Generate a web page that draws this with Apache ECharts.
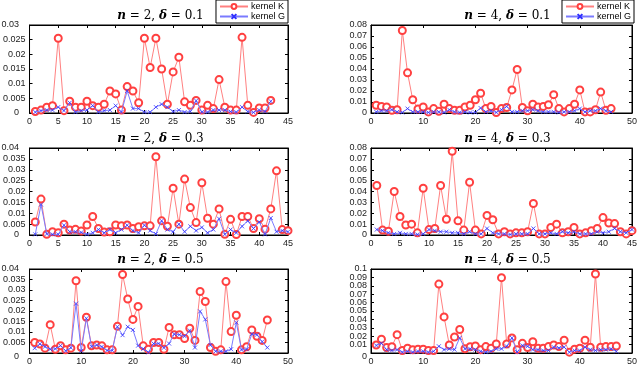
<!DOCTYPE html>
<html>
<head>
<meta charset="utf-8">
<script src="https://cdn.jsdelivr.net/npm/echarts@6/dist/echarts.min.js"></script>
<style>
  html, body { margin: 0; padding: 0; background: #fff; }
  #main { width: 640px; height: 366px; }
</style>
</head>
<body>
<div id="main"></div>
<script>
// 数据：每个子图两条曲线，横坐标为 1..N
const k1 = [0.0005,0.001,0.002,0.0025,0.0255,0.0008,0.004,0.002,0.002,0.004,0.0025,0.002,0.003,0.0075,0.0065,0.001,0.009,0.0075,0.0035,0.0255,0.0155,0.0255,0.015,0.003,0.014,0.019,0.0038,0.0026,0.0043,0.001,0.0026,0.0015,0.0114,0.002,0.001,0.001,0.0258,0.0026,0.0002,0.0017,0.0017,0.0043]
const g1 = [0.0003,0.0008,0.001,0.001,0.002,0.0008,0.0035,0.0003,0.0008,0.001,0.0025,0.0003,0.0008,0.001,0.0025,0.0003,0.0075,0.0015,0.0015,0.0003,0.0003,0.002,0.003,0.002,0.0005,0.001,0.0003,0.0005,0.0042,0.0003,0.0003,0.001,0.001,0.001,0.0005,0.0003,0.002,0.0005,0.0002,0.001,0.0005,0.004]

const k2 = [0.007,0.006,0.0055,0.0025,0.003,0.075,0.0365,0.012,0.0036,0.0055,0.001,0.004,0.0015,0.008,0.004,0.0025,0.0025,0.0055,0.007,0.012,0.018,0.004,0.006,0.0005,0.004,0.005,0.021,0.0395,0.005,0.002,0.008,0.0055,0.006,0.0075,0.0167,0.004,0.001,0.004,0.008,0.021,0.001,0.001,0.003,0.019,0.0025,0.004]
const g2 = [0.001,0.002,0.002,0.003,0.001,0.0005,0.004,0.001,0.001,0.001,0.0005,0.001,0.001,0.0005,0.003,0.001,0.0005,0.001,0.0005,0.0005,0.0045,0.001,0.002,0.0005,0.003,0.006,0.001,0.001,0.002,0.002,0.003,0.002,0.001,0.001,0.001,0.0005,0.001,0.001,0.002,0.004,0.001,0.002,0.002,0.004,0.002,0.001]

const k3 = [0.006,0.0165,0.0003,0.0015,0.001,0.005,0.0023,0.0026,0.0018,0.0046,0.0085,0.003,0.0014,0.0015,0.0046,0.0042,0.0046,0.003,0.0038,0.0042,0.0042,0.036,0.0065,0.004,0.0215,0.005,0.0257,0.0126,0.0057,0.024,0.0077,0.005,0.012,0.0003,0.0072,0.0002,0.0085,0.0085,0.003,0.0075,0.0027,0.012,0.0295,0.0025,0.002]
const g3 = [0.0003,0.014,0.0005,0.0003,0.0003,0.0045,0.0015,0.0015,0.0012,0.0003,0.001,0.0025,0.001,0.0025,0.001,0.0025,0.0045,0.002,0.001,0.0045,0.002,0.0005,0.0065,0.0025,0.0015,0.005,0.0015,0.004,0.002,0.0035,0.001,0.0025,0.0075,0.0003,0.0025,0.001,0.004,0.0065,0.003,0.006,0.0003,0.0078,0.0015,0.002,0.0015]

const k4 = [0.0455,0.0045,0.0035,0.04,0.017,0.0092,0.01,0.002,0.043,0.005,0.006,0.0455,0.0145,0.077,0.013,0.0045,0.0485,0.0045,0.001,0.018,0.014,0.001,0.003,0.001,0.002,0.002,0.003,0.029,0.001,0.001,0.007,0.01,0.002,0.003,0.007,0.001,0.002,0.004,0.006,0.016,0.011,0.0105,0.003,0.001,0.004]
const g4 = [0.005,0.004,0.002,0.001,0.002,0.001,0.001,0.0005,0.001,0.005,0.004,0.003,0.003,0.002,0.002,0.001,0.003,0.001,0.001,0.006,0.002,0.001,0.001,0.0005,0.001,0.001,0.001,0.006,0.001,0.001,0.002,0.001,0.003,0.002,0.003,0.001,0.001,0.001,0.003,0.002,0.003,0.006,0.003,0.002,0.005]

const k5 = [0.005,0.0043,0.0023,0.0135,0.0018,0.0035,0.0015,0.0023,0.0344,0.0026,0.017,0.0034,0.0038,0.0034,0.0015,0.0015,0.0127,0.0374,0.0257,0.016,0.0222,0.0034,0.0018,0.005,0.005,0.0018,0.0122,0.0087,0.0087,0.0069,0.0118,0.006,0.0293,0.0245,0.0026,0.0008,0.0015,0.034,0.0102,0.018,0.0015,0.003,0.011,0.008,0.006,0.0157]
const g5 = [0.0023,0.0043,0.003,0.0018,0.002,0.0035,0.001,0.0025,0.0235,0.001,0.0165,0.003,0.0038,0.003,0.0012,0.0012,0.0125,0.0085,0.0125,0.011,0.0035,0.002,0.0003,0.0045,0.0045,0.0025,0.0045,0.009,0.0087,0.008,0.0107,0.0026,0.0198,0.016,0.0038,0.0008,0.0008,0.0008,0.0018,0.0145,0.0015,0.0018,0.009,0.0087,0.0054,0.0026]

const k6 = [0.0095,0.0165,0.0065,0.0075,0.0218,0.003,0.0057,0.0038,0.0046,0.0046,0.003,0.003,0.082,0.043,0.0095,0.019,0.028,0.005,0.0075,0.0084,0.004,0.0076,0.0057,0.0107,0.0897,0.0107,0.018,0.004,0.0115,0.0065,0.0134,0.0057,0.0057,0.0076,0.0095,0.0076,0.0153,0.001,0.0046,0.0057,0.0153,0.0069,0.094,0.0069,0.0076,0.0076,0.0084]
const g6 = [0.009,0.0115,0.004,0.003,0.004,0.001,0.002,0.001,0.002,0.002,0.001,0.002,0.008,0.004,0.005,0.004,0.018,0.005,0.005,0.004,0.002,0.001,0.002,0.005,0.005,0.008,0.018,0.001,0.009,0.008,0.004,0.004,0.003,0.003,0.007,0.006,0.007,0.001,0.003,0.003,0.007,0.004,0.003,0.004,0.004,0.005,0.002]

// 子图标题 (n, delta) 和坐标轴范围
const nVals = [2, 4, 2, 4, 2, 4]
const deltaVals = ['0.1', '0.1', '0.3', '0.3', '0.5', '0.5']
const xMax = [45, 50, 45, 45, 50, 50]
const xStep = [5, 10, 5, 5, 10, 10]
const yMax = [0.03, 0.08, 0.04, 0.08, 0.04, 0.1]
const yStep = [0.005, 0.01, 0.005, 0.01, 0.005, 0.01]

const kData = [k1, k2, k3, k4, k5, k6]
const gData = [g1, g2, g3, g4, g5, g6]

const cols = [{left: 23, width: 265}, {left: 371, width: 263}]
const rows = [{top: 25, height: 88}, {top: 148, height: 87}, {top: 269, height: 88}]

const redLine = '#ff8080'
const red = '#ff4040'
const blueLine = '#7a7aff'
const blue = '#3030ff'
const crossPath = 'path://M0,0L10,10M10,0L0,10'
const labelFont = 'Liberation Sans'

const fmt = v => String(parseFloat(v.toFixed(4)))

const grids = [], xAxes = [], yAxes = [], series = [], titles = [], endLabels = []
for (let i = 0; i < 6; i++) {
  const c = cols[i % 2], r = rows[Math.floor(i / 2)]
  grids.push({left: c.left, width: c.width, top: r.top, height: r.height,
    show: true, borderColor: '#000', borderWidth: 1, backgroundColor: '#fff'})
  const axisLine = {show: true, onZero: false, lineStyle: {color: '#000', width: 1}}
  const tick = {show: true, inside: true, length: 3, lineStyle: {color: '#000'}}
  // 下方 / 左侧 主坐标轴
  xAxes.push({type: 'value', gridIndex: i, min: 0, max: xMax[i], interval: xStep[i],
    axisLine: axisLine, axisTick: tick, splitLine: {show: false},
    axisLabel: {fontSize: 9, color: '#222', margin: 4, fontFamily: labelFont,
      showMinLabel: true, showMaxLabel: true, hideOverlap: false}})
  // y 轴两端的标签另外用 graphic 画
  yAxes.push({type: 'value', gridIndex: i, min: 0, max: yMax[i], interval: yStep[i],
    axisLine: axisLine, axisTick: tick, splitLine: {show: false},
    axisLabel: {fontSize: 9, color: '#222', margin: 4, fontFamily: labelFont, formatter: fmt,
      showMinLabel: false, showMaxLabel: false, hideOverlap: false}})
  // 上方 / 右侧 只画刻度
  xAxes.push({type: 'value', gridIndex: i, position: 'top', min: 0, max: xMax[i], interval: xStep[i],
    axisLine: axisLine, axisTick: tick, splitLine: {show: false}, axisLabel: {show: false}})
  yAxes.push({type: 'value', gridIndex: i, position: 'right', min: 0, max: yMax[i], interval: yStep[i],
    axisLine: axisLine, axisTick: tick, splitLine: {show: false}, axisLabel: {show: false}})

  series.push({
    name: 'kernel K', type: 'line', xAxisIndex: i * 2, yAxisIndex: i * 2,
    data: kData[i].map((v, j) => [j + 1, v]),
    symbol: 'emptyCircle', symbolSize: 7,
    lineStyle: {color: redLine, width: 1},
    itemStyle: {color: red, borderColor: red, borderWidth: 0.7},
    emphasis: {disabled: true}, animation: false, z: 2
  })
  series.push({
    name: 'kernel G', type: 'line', xAxisIndex: i * 2, yAxisIndex: i * 2,
    data: gData[i].map((v, j) => [j + 1, v]),
    symbol: crossPath, symbolSize: 4,
    lineStyle: {color: blueLine, width: 1},
    itemStyle: {color: blue, borderColor: blue, borderWidth: 0.8},
    emphasis: {disabled: true}, animation: false, z: 3
  })

  titles.push({
    text: '{i|n} = ' + nVals[i] + ', {i|δ} = ' + deltaVals[i],
    left: c.left + c.width / 2, top: r.top - 20, textAlign: 'center',
    textStyle: {
      fontSize: 12, fontWeight: 'normal', color: '#000', fontFamily: 'DejaVu Serif',
      rich: {i: {fontSize: 12, fontStyle: 'italic', fontWeight: 'bold', fontFamily: 'DejaVu Serif', color: '#000'}}
    }
  })

  // y 轴 "0" 与最大值标签
  endLabels.push({
    type: 'text', right: 640 - (c.left - 4), top: r.top + r.height - 5, z: 100, silent: true,
    style: {text: '0', fontSize: 9, fontFamily: labelFont, fill: '#222'}
  })
  endLabels.push({
    type: 'text', right: 640 - (c.left - 4), top: r.top - 5, z: 100, silent: true,
    style: {text: fmt(yMax[i]), fontSize: 9, fontFamily: labelFont, fill: '#222'}
  })
}

const legendBase = {
  orient: 'vertical', top: 0, itemGap: 1, itemWidth: 28, itemHeight: 6,
  padding: [2, 3, 2, 3], borderColor: '#000', borderWidth: 1, backgroundColor: '#fff',
  textStyle: {fontSize: 9, color: '#000', fontFamily: labelFont, padding: [0, 0, 0, -2]},
  data: ['kernel K', 'kernel G'], selectedMode: false
}

const chart = echarts.init(document.getElementById('main'), null, {renderer: 'canvas'})
chart.setOption({
  backgroundColor: '#fff',
  animation: false,
  title: titles,
  legend: [
    Object.assign({right: 640 - 288}, legendBase),
    Object.assign({right: 6}, legendBase)
  ],
  grid: grids,
  xAxis: xAxes,
  yAxis: yAxes,
  series: series,
  graphic: {elements: endLabels}
})
</script>
</body>
</html>
